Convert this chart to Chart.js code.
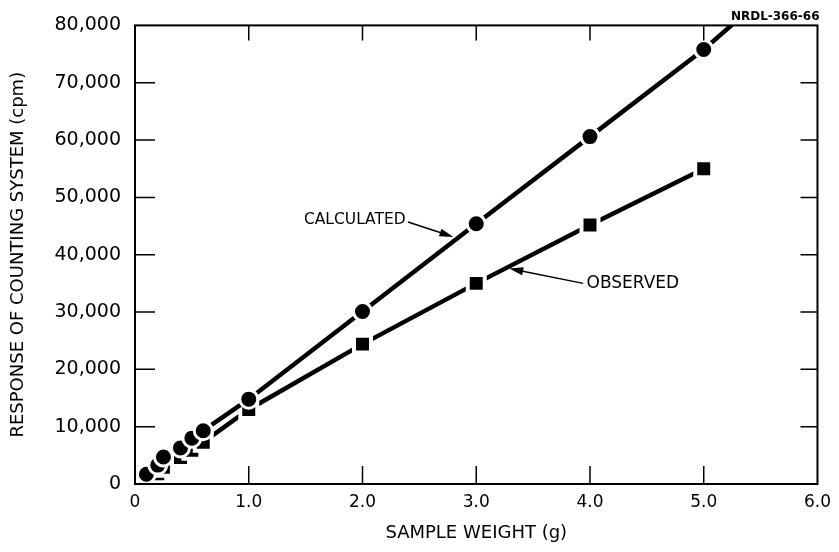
<!DOCTYPE html>
<html>
<head>
<meta charset="utf-8">
<title>Response of counting system</title>
<script src="https://cdn.jsdelivr.net/npm/chart.js@4.4.1/dist/chart.umd.min.js"></script>
<style>
  html, body { margin: 0; padding: 0; background: #fff; }
  #wrap { width: 839px; height: 552px; }
</style>
</head>
<body>
<div id="wrap"><canvas id="weightChart"></canvas></div>
<script>
// sample weight (g)
var calcWeights = [0.1, 0.2, 0.25, 0.4, 0.5, 0.6, 1.0, 2.0, 3.0, 4.0, 5.0, 5.3];
var calculated = [1700, 3300, 4700, 6300, 8000, 9300, 14800, 30100, 45400, 60600, 75800, 81000];
var obsWeights = [0.1, 0.2, 0.25, 0.4, 0.5, 0.6, 1.0, 2.0, 3.0, 4.0, 5.0];
var observed = [400, 1800, 2900, 4600, 5900, 7300, 13000, 24400, 35000, 45200, 55000];

var xTicks = [0, 1, 2, 3, 4, 5, 6];
var yTicks = [0, 10000, 20000, 30000, 40000, 50000, 60000, 70000, 80000];

var FONT = '"DejaVu Sans", "Liberation Sans", sans-serif';

function toPoints(xs, ys) {
    return xs.map(function(x, i) { return { x: x, y: ys[i] }; });
}

// box, inner ticks and the hand labels
var framePlugin = {
    id: 'frame',
    afterDraw: function(chart) {
        var ctx = chart.ctx;
        var a = chart.chartArea;
        var sx = chart.scales.x, sy = chart.scales.y;
        ctx.save();
        ctx.strokeStyle = '#000';
        ctx.lineWidth = 2;
        ctx.strokeRect(a.left, a.top, a.right - a.left, a.bottom - a.top);

        ctx.lineWidth = 1.5;
        ctx.beginPath();
        xTicks.slice(1, -1).forEach(function(v) {
            var px = sx.getPixelForValue(v);
            ctx.moveTo(px, a.bottom); ctx.lineTo(px, a.bottom - 18);
            ctx.moveTo(px, a.top); ctx.lineTo(px, a.top + 15);
        });
        yTicks.slice(1, -1).forEach(function(v) {
            var py = sy.getPixelForValue(v);
            ctx.moveTo(a.left, py); ctx.lineTo(a.left + 20, py);
            ctx.moveTo(a.right, py); ctx.lineTo(a.right - 17, py);
        });
        ctx.stroke();

        function arrow(x1, y1, x2, y2) {
            var p1x = sx.getPixelForValue(x1), p1y = sy.getPixelForValue(y1);
            var p2x = sx.getPixelForValue(x2), p2y = sy.getPixelForValue(y2);
            var ang = Math.atan2(p2y - p1y, p2x - p1x);
            ctx.lineWidth = 1.5;
            ctx.beginPath();
            ctx.moveTo(p1x, p1y);
            ctx.lineTo(p2x - 10 * Math.cos(ang), p2y - 10 * Math.sin(ang));
            ctx.stroke();
            ctx.beginPath();
            ctx.moveTo(p2x, p2y);
            ctx.lineTo(p2x - 14 * Math.cos(ang) + 4 * Math.sin(ang), p2y - 14 * Math.sin(ang) - 4 * Math.cos(ang));
            ctx.lineTo(p2x - 14 * Math.cos(ang) - 4 * Math.sin(ang), p2y - 14 * Math.sin(ang) + 4 * Math.cos(ang));
            ctx.closePath();
            ctx.fill();
        }

        ctx.fillStyle = '#000';
        ctx.font = '15.5px ' + FONT;
        ctx.textBaseline = 'middle';
        ctx.textAlign = 'right';
        ctx.fillText('CALCULATED', sx.getPixelForValue(2.38), sy.getPixelForValue(46000));
        arrow(2.40, 45700, 2.80, 43100);
        ctx.font = '17px ' + FONT;
        ctx.textAlign = 'left';
        ctx.fillText('OBSERVED', sx.getPixelForValue(3.97), sy.getPixelForValue(35000));
        arrow(3.94, 35000, 3.29, 37600);

        ctx.font = 'bold 12px ' + FONT;
        ctx.textAlign = 'right';
        ctx.fillText('NRDL-366-66', a.right + 2, a.top - 9);
        ctx.restore();
    }
};

var ctx = document.getElementById('weightChart').getContext('2d');

new Chart(ctx, {
    type: 'scatter',
    data: {
        datasets: [
            {
                label: 'CALCULATED',
                data: toPoints(calcWeights, calculated),
                showLine: true,
                borderColor: '#000',
                borderWidth: 4.5,
                pointStyle: 'circle',
                pointRadius: function(c) { return c.dataIndex === calcWeights.length - 1 ? 0 : 9; },
                pointBackgroundColor: '#000',
                pointBorderColor: '#fff',
                pointBorderWidth: 3,
                clip: 0
            },
            {
                label: 'OBSERVED',
                data: toPoints(obsWeights, observed),
                showLine: true,
                borderColor: '#000',
                borderWidth: 4.5,
                pointStyle: 'rect',
                pointRadius: 12,
                pointBackgroundColor: '#000',
                pointBorderColor: '#fff',
                pointBorderWidth: 4
            }
        ]
    },
    options: {
        responsive: true,
        maintainAspectRatio: false,
        animation: false,
        layout: { padding: { top: 25, right: 17, left: 0, bottom: 0 } },
        plugins: {
            legend: { display: false },
            tooltip: { enabled: false }
        },
        scales: {
            x: {
                type: 'linear',
                min: 0,
                max: 6,
                afterFit: function(scale) { scale.height = 68; },
                afterBuildTicks: function(scale) { scale.ticks = xTicks.map(function(v) { return { value: v }; }); },
                grid: { display: false, drawTicks: false },
                border: { display: false },
                ticks: {
                    padding: 8,
                    color: '#000',
                    font: { family: FONT, size: 17 },
                    callback: function(v) { return v === 0 ? '0' : v.toFixed(1); }
                },
                title: {
                    display: true,
                    text: 'SAMPLE WEIGHT (g)',
                    color: '#000',
                    font: { family: FONT, size: 18 },
                    padding: { top: 0, bottom: 8 }
                }
            },
            y: {
                type: 'linear',
                min: 0,
                max: 80000,
                afterFit: function(scale) { scale.width = 135; },
                afterBuildTicks: function(scale) { scale.ticks = yTicks.map(function(v) { return { value: v }; }); },
                grid: { display: false, drawTicks: false },
                border: { display: false },
                ticks: {
                    padding: 14,
                    color: '#000',
                    font: { family: FONT, size: 19 },
                    callback: function(v) { return v.toLocaleString('en-US'); }
                },
                title: {
                    display: true,
                    text: 'RESPONSE OF COUNTING SYSTEM (cpm)',
                    color: '#000',
                    font: { family: FONT, size: 18 },
                    padding: { top: 8, bottom: 0 }
                }
            }
        }
    },
    plugins: [framePlugin]
});
</script>
</body>
</html>
